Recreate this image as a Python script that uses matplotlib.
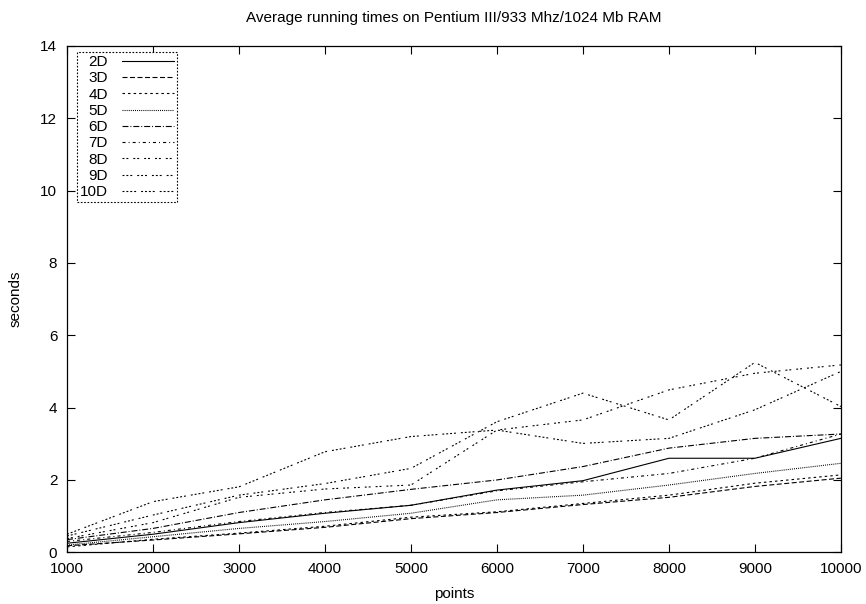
"""
Average running times per dimension, gnuplot-style line chart.
"""

import matplotlib

matplotlib.use("Agg")
import matplotlib.pyplot as plt

plt.rcParams["font.family"] = ["Liberation Sans", "DejaVu Sans"]
plt.rcParams["lines.scale_dashes"] = False

points = [1000, 2000, 3000, 4000, 5000, 6000, 7000, 8000, 9000, 10000]

t_2d = [0.25, 0.50, 0.82, 1.08, 1.30, 1.72, 1.98, 2.60, 2.60, 3.15]
t_3d = [0.18, 0.34, 0.51, 0.69, 0.93, 1.10, 1.32, 1.52, 1.82, 2.05]
t_4d = [0.15, 0.36, 0.53, 0.72, 0.97, 1.12, 1.35, 1.58, 1.91, 2.14]
t_5d = [0.20, 0.43, 0.66, 0.85, 1.08, 1.45, 1.58, 1.86, 2.18, 2.46]
t_6d = [0.35, 0.66, 1.10, 1.45, 1.74, 2.00, 2.37, 2.88, 3.15, 3.27]
t_7d = [0.30, 0.55, 0.85, 1.10, 1.30, 1.70, 1.95, 2.18, 2.60, 3.27]
t_8d = [0.38, 0.82, 1.52, 1.75, 1.86, 3.38, 3.66, 4.49, 4.95, 5.18]
t_9d = [0.45, 1.03, 1.58, 1.90, 2.32, 3.61, 4.40, 3.66, 5.25, 4.03]
t_10d = [0.50, 1.40, 1.81, 2.78, 3.20, 3.38, 3.01, 3.15, 3.94, 5.00]

labels = ["2D", "3D", "4D", "5D", "6D", "7D", "8D", "9D", "10D"]
series = [t_2d, t_3d, t_4d, t_5d, t_6d, t_7d, t_8d, t_9d, t_10d]

# gnuplot-ish dash patterns (points)
dashes = [
    None,
    (0, (3.6, 1.8)),
    (0, (1.8, 2.2)),
    (0, (0.7, 0.8)),
    (0, (4.3, 1.4, 0.7, 1.4)),
    (0, (2.2, 2.2, 0.7, 2.2)),
    (0, (1.4, 1.4, 1.4, 3.6)),
    (0, (1.4, 1.4, 1.4, 1.4, 1.4, 3.6)),
    (0, (1.4, 1.4, 1.4, 1.4, 1.4, 1.4, 1.4, 3.6)),
]

fig = plt.figure(figsize=(8.66, 6.04), dpi=100)
ax = fig.add_axes([0.0774, 0.0856, 0.8936, 0.8384])

for lab, ys, ds in zip(labels, series, dashes):
    ls = "-" if ds is None else ds
    ax.plot(points, ys, color="black", lw=0.8, linestyle=ls, label=lab)

ax.set_xlim(1000, 10000)
ax.set_ylim(0, 14)
ax.set_xticks(points)
ax.set_yticks(range(0, 15, 2))
ax.tick_params(direction="in", top=True, right=True, length=5.8, width=0.8,
               labelsize=11, pad=7)
for s in ax.spines.values():
    s.set_linewidth(0.9)

ax.set_title("Average running times on Pentium III/933 Mhz/1024 Mb RAM",
             fontsize=11, pad=17)
ax.set_xlabel("points", fontsize=11, labelpad=8)
ax.set_ylabel("seconds", fontsize=11, labelpad=13)

leg = ax.legend(loc="upper left", bbox_to_anchor=(0.0129, 0.988),
                borderaxespad=0, markerfirst=False, fontsize=11,
                handlelength=3.4, handletextpad=0.9, labelspacing=0.15,
                borderpad=0.2, fancybox=False, framealpha=1)
leg.get_frame().set_edgecolor("black")
leg.get_frame().set_linestyle((0, (1.2, 1.2)))
leg.get_frame().set_linewidth(0.8)

fig.savefig("out.png", dpi=100)
